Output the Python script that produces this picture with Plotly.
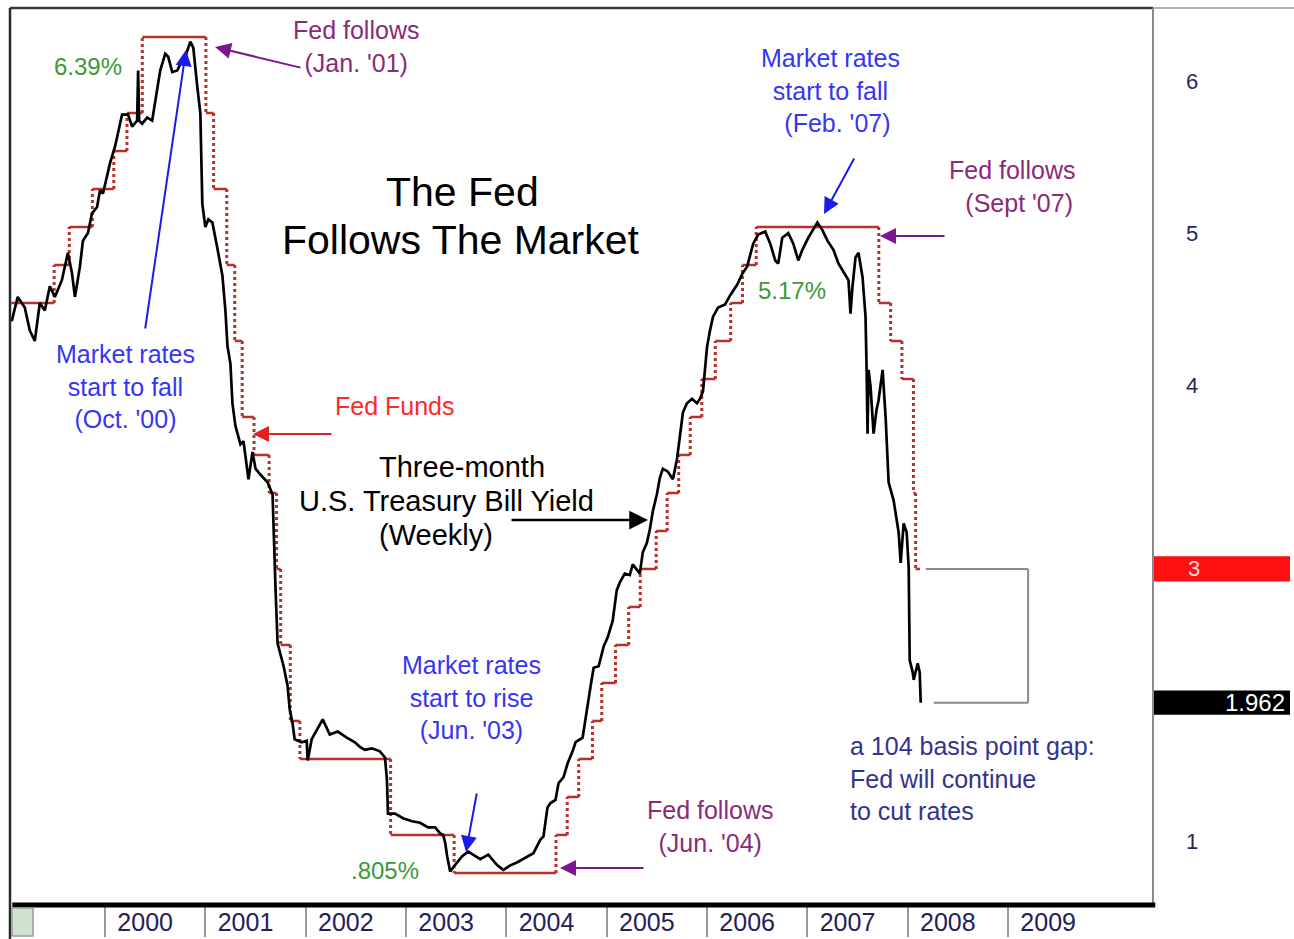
import datetime as dt
import plotly.graph_objects as go

# ---------------- data ----------------
# Three-month T-bill yield (weekly); x in decimal years
tbill_year = [
    1999.07, 1999.13, 1999.20, 1999.25, 1999.30, 1999.35, 1999.40, 1999.45, 1999.50, 1999.57,
    1999.63, 1999.67, 1999.70, 1999.75, 1999.78, 1999.83, 1999.87, 1999.92, 1999.95, 1999.98,
    2000.05, 2000.10, 2000.17, 2000.23, 2000.27, 2000.32, 2000.33, 2000.34, 2000.37, 2000.42,
    2000.47, 2000.52, 2000.55, 2000.60, 2000.63, 2000.67, 2000.72, 2000.77, 2000.80, 2000.85,
    2000.88, 2000.92, 2000.95, 2000.97,
    2001.00, 2001.03, 2001.07, 2001.12, 2001.17, 2001.20, 2001.22, 2001.25, 2001.27, 2001.30,
    2001.35, 2001.38, 2001.43, 2001.47, 2001.50, 2001.55, 2001.62, 2001.67, 2001.68, 2001.70,
    2001.72, 2001.75, 2001.78, 2001.82, 2001.84, 2001.87, 2001.89, 2001.96,
    2002.01, 2002.02, 2002.06, 2002.11, 2002.17, 2002.24, 2002.32, 2002.41, 2002.49, 2002.54,
    2002.59, 2002.66, 2002.74, 2002.79, 2002.81, 2002.82, 2002.89, 2002.97,
    2003.06, 2003.14, 2003.22, 2003.29, 2003.34, 2003.37, 2003.39, 2003.41, 2003.44, 2003.51,
    2003.56, 2003.62, 2003.69, 2003.74, 2003.82, 2003.91, 2003.97,
    2004.04, 2004.11, 2004.19, 2004.27, 2004.34, 2004.37, 2004.41, 2004.44, 2004.49, 2004.52,
    2004.57, 2004.61, 2004.66, 2004.69, 2004.76, 2004.81, 2004.84, 2004.87, 2004.92, 2004.97,
    2005.01, 2005.06, 2005.10, 2005.13, 2005.18, 2005.23, 2005.26, 2005.33, 2005.36, 2005.40,
    2005.43, 2005.46, 2005.50, 2005.53, 2005.56, 2005.61, 2005.66, 2005.70, 2005.73, 2005.76,
    2005.80, 2005.85, 2005.90, 2005.93, 2005.96, 2005.98,
    2006.00, 2006.03, 2006.06, 2006.11, 2006.18, 2006.23, 2006.30, 2006.35, 2006.40, 2006.46,
    2006.51, 2006.58, 2006.63, 2006.68, 2006.71, 2006.75, 2006.81, 2006.86, 2006.91, 2006.95,
    2007.01, 2007.10, 2007.15, 2007.20, 2007.26, 2007.31, 2007.36, 2007.41, 2007.43, 2007.45,
    2007.48, 2007.51, 2007.55, 2007.58, 2007.59, 2007.60, 2007.61, 2007.63, 2007.66, 2007.69,
    2007.71, 2007.75, 2007.78, 2007.81, 2007.86, 2007.91, 2007.93, 2007.96, 2007.99,
    2008.01, 2008.02, 2008.05, 2008.06, 2008.10, 2008.12, 2008.13,
]
tbill_yield = [
    4.63, 4.79, 4.72, 4.57, 4.50, 4.75, 4.70, 4.86, 4.79, 4.90,
    5.08, 4.95, 4.79, 4.99, 5.16, 5.21, 5.34, 5.38, 5.49, 5.47,
    5.67, 5.78, 5.99, 5.99, 5.91, 5.95, 6.28, 5.95, 5.93, 5.97,
    5.95, 6.17, 6.28, 6.39, 6.37, 6.27, 6.28, 6.35, 6.37, 6.47,
    6.43, 6.17, 6.00, 5.40,
    5.25, 5.30, 5.28, 5.11, 4.93, 4.70, 4.47, 4.35, 4.09, 3.94,
    3.82, 3.84, 3.59, 3.77, 3.66, 3.62, 3.57, 3.49, 3.24, 2.86,
    2.51, 2.43, 2.36, 2.23, 2.08, 1.98, 1.88, 1.86,
    1.87, 1.74, 1.88, 1.94, 2.01, 1.91, 1.93, 1.89, 1.86, 1.83,
    1.81, 1.82, 1.80, 1.76, 1.61, 1.39, 1.39, 1.36,
    1.34, 1.33, 1.30, 1.30, 1.26, 1.25, 1.20, 1.11, 1.01, 1.07,
    1.11, 1.14, 1.11, 1.09, 1.12, 1.05, 1.02,
    1.05, 1.07, 1.10, 1.13, 1.22, 1.24, 1.43, 1.46, 1.48, 1.59,
    1.63, 1.72, 1.80, 1.86, 1.89, 2.12, 2.23, 2.35, 2.36, 2.49,
    2.55, 2.66, 2.86, 2.91, 2.97, 2.96, 3.03, 2.97, 3.11, 3.17,
    3.26, 3.38, 3.49, 3.60, 3.66, 3.64, 3.59, 3.72, 3.86, 4.03,
    4.09, 4.12, 4.09, 4.12, 4.17, 4.34,
    4.46, 4.57, 4.66, 4.72, 4.74, 4.80, 4.87, 4.94, 4.99, 5.14,
    5.20, 5.22, 5.14, 5.03, 5.01, 5.18, 5.21, 5.14, 5.03, 5.10,
    5.18, 5.28, 5.23, 5.16, 5.10, 5.01, 4.95, 4.90, 4.68, 4.86,
    5.05, 5.08, 4.92, 4.66, 4.33, 3.89, 4.31, 4.20, 3.89, 4.05,
    4.11, 4.31, 4.00, 3.57, 3.45, 3.24, 3.04, 3.30, 3.24,
    3.01, 2.40, 2.32, 2.27, 2.38, 2.32, 2.12,
]

# Fed funds target rate changes
fed_dates = [
    "1999-01-25", "1999-06-30", "1999-08-24", "1999-11-16", "2000-02-02", "2000-03-21",
    "2000-05-16", "2001-01-03", "2001-01-31", "2001-03-20", "2001-04-18", "2001-05-15",
    "2001-06-27", "2001-08-21", "2001-09-17", "2001-10-02", "2001-11-06", "2001-12-11",
    "2002-11-06", "2003-06-25", "2004-06-30", "2004-08-10", "2004-09-21", "2004-11-10",
    "2004-12-14", "2005-02-02", "2005-03-22", "2005-05-03", "2005-06-30", "2005-08-09",
    "2005-09-20", "2005-11-01", "2005-12-13", "2006-01-31", "2006-03-28", "2006-05-10",
    "2006-06-29", "2007-09-18", "2007-10-31", "2007-12-11", "2008-01-22", "2008-01-30",
]
fed_rates = [
    4.75, 5.00, 5.25, 5.50, 5.75, 6.00,
    6.50, 6.00, 5.50, 5.00, 4.50, 4.00,
    3.75, 3.50, 3.00, 2.50, 2.00, 1.75,
    1.25, 1.00, 1.25, 1.50, 1.75, 2.00,
    2.25, 2.50, 2.75, 3.00, 3.25, 3.50,
    3.75, 4.00, 4.25, 4.50, 4.75, 5.00,
    5.25, 4.75, 4.50, 4.25, 3.50, 3.00,
]
fed_end_date = "2008-02-15"

year_labels = ["2000", "2001", "2002", "2003", "2004", "2005", "2006", "2007", "2008", "2009"]
y_ticks = [1, 4, 5, 6]
last_tbill_label = "1.962"


def dec_year(s):
    d = dt.date.fromisoformat(s)
    start = dt.date(d.year, 1, 1)
    n = (dt.date(d.year + 1, 1, 1) - start).days
    return d.year + (d - start).days / n


fx = [dec_year(s) for s in fed_dates] + [dec_year(fed_end_date)]

# horizontal (solid) and vertical (dotted) pieces of the step line
hx, hy, vx, vy = [], [], [], []
for i, r in enumerate(fed_rates):
    hx += [fx[i], fx[i + 1], None]
    hy += [r, r, None]
    if i + 1 < len(fed_rates):
        vx += [fx[i + 1], fx[i + 1], None]
        vy += [r, fed_rates[i + 1], None]

RED = "#b8302a"
fig = go.Figure()
fig.add_trace(go.Scatter(x=vx, y=vy, mode="lines", line=dict(color=RED, width=3, dash="dot"),
                         hoverinfo="skip"))
fig.add_trace(go.Scatter(x=hx, y=hy, mode="lines", line=dict(color=RED, width=2.5),
                         name="Fed Funds"))
fig.add_trace(go.Scatter(x=tbill_year, y=tbill_yield, mode="lines",
                         line=dict(color="#000000", width=2.7), name="3M T-Bill"))

# ---------------- layout helpers ----------------
L, R, T, B = 10, 1153, 8, 905
W, H = 1294, 939


def P(px, py):
    return (px - L) / (R - L), (B - py) / (B - T)


FONT = "Liberation Sans, Arial, sans-serif"
annotations = []


def text(px, py, s, color, size=25, xanchor="center", align="center"):
    x, y = P(px, py)
    annotations.append(dict(x=x, y=y, xref="paper", yref="paper", text=s, showarrow=False,
                            xanchor=xanchor, yanchor="middle", align=align,
                            font=dict(family=FONT, size=size, color=color)))


def arrow(hx_, hy_, tx, ty, color, width=2, size=1.6, head=2):
    x, y = P(hx_, hy_)
    annotations.append(dict(x=x, y=y, xref="paper", yref="paper", text="", showarrow=True,
                            ax=tx - hx_, ay=ty - hy_, arrowcolor=color, arrowwidth=width,
                            arrowsize=size, arrowhead=head, standoff=0))


GREEN = "#3a9a3a"
BLUE = "#3535f5"
PURPLE = "#8a2a78"
PURPLE_A = "#7a1890"

text(462, 192, "The Fed", "#000000", size=41)
text(461, 240, "Follows The Market", "#000000", size=41)

text(88, 66, "6.39%", GREEN, size=24)
text(356, 46, "Fed follows<br>(Jan. '01)", PURPLE)
arrow(215, 47, 302, 68, PURPLE_A)
text(125, 386, "Market rates<br>start to fall<br>(Oct. '00)", BLUE)
arrow(186, 50, 145, 330, "#1a1aee")
text(395, 406, "Fed Funds", "#ff2a2a")
arrow(253, 434, 333, 434, "#e02020")
text(462, 467, "Three-month", "#000000", size=29)
text(446, 501, "U.S. Treasury Bill Yield", "#000000", size=29)
text(436, 535, "(Weekly)", "#000000", size=29)
arrow(648, 520, 510, 520, "#000000", width=2.5, size=1.5)
text(830, 90, "Market rates<br>start to fall<br>  (Feb. '07)", BLUE)
arrow(824, 214, 855, 157, "#1a1aee")
text(1012, 186, "Fed follows<br>  (Sept '07)", PURPLE)
arrow(880, 236, 946, 236, PURPLE_A)
text(792, 290, "5.17%", GREEN, size=24)
text(471, 698, "Market rates<br>start to rise<br>(Jun. '03)", BLUE)
arrow(466, 852, 477, 792, "#1a1aee")
text(385, 870, ".805%", GREEN, size=24)
text(710, 826, "Fed follows<br>(Jun. '04)", PURPLE)
arrow(560, 868, 645, 868, PURPLE_A)
text(848, 778, "a 104 basis point gap:<br>Fed will continue<br>to cut rates", "#33338f",
     xanchor="left", align="left")

# right-hand value boxes
fed_last = fed_rates[-1]
tb_last = tbill_yield[-1]
box_x1 = (1290 - L) / (R - L)
annotations.append(dict(x=(1202 - L) / (R - L), y=fed_last, xref="paper", yref="y", text="3",
                        showarrow=False, font=dict(family=FONT, size=22, color="#ffd6d6")))
annotations.append(dict(x=(1287 - L) / (R - L), y=tb_last, xref="paper", yref="y",
                        text=last_tbill_label, showarrow=False, xanchor="right",
                        font=dict(family=FONT, size=24, color="#ffffff")))

shapes = [
    # value boxes
    dict(type="rect", xref="paper", yref="y", x0=1, x1=box_x1, y0=fed_last - 0.083,
         y1=fed_last + 0.083, fillcolor="#ff1010", line=dict(width=0), layer="below"),
    dict(type="rect", xref="paper", yref="y", x0=1, x1=box_x1, y0=tb_last - 0.08,
         y1=tb_last + 0.08, fillcolor="#000000", line=dict(width=0), layer="below"),
    # gap bracket
    dict(type="line", xref="x", yref="y", x0=2008.18, x1=2009.20, y0=fed_last, y1=fed_last,
         line=dict(color="#8a8a8a", width=2)),
    dict(type="line", xref="x", yref="y", x0=2009.20, x1=2009.20, y0=fed_last, y1=tb_last,
         line=dict(color="#8a8a8a", width=2)),
    dict(type="line", xref="x", yref="y", x0=2008.26, x1=2009.20, y0=tb_last, y1=tb_last,
         line=dict(color="#8a8a8a", width=2)),
    # frame
    dict(type="line", xref="paper", yref="paper", x0=0, x1=1, y0=1, y1=1,
         line=dict(color="#3a3a3a", width=2.5)),
    dict(type="line", xref="paper", yref="paper", x0=1, x1=(W - L) / (R - L), y0=1, y1=1,
         line=dict(color="#9a9a9a", width=1.5)),
    dict(type="line", xref="paper", yref="paper", x0=0, x1=0, y0=-0.04, y1=1,
         line=dict(color="#2a2a2a", width=2.5)),
    dict(type="line", xref="paper", yref="paper", x0=1, x1=1, y0=0, y1=1,
         line=dict(color="#8a8a8a", width=2)),
    dict(type="line", xref="paper", yref="paper", x0=0.002, x1=1.002, y0=0, y1=0,
         line=dict(color="#000000", width=5)),
    dict(type="rect", xref="paper", yref="paper", x0=(12 - L) / (R - L), x1=(33 - L) / (R - L),
         y0=(B - 936) / (B - T), y1=(B - 908) / (B - T), fillcolor="#cfe3cf",
         line=dict(color="#9a9a9a", width=1.5)),
]

years = [int(s) for s in year_labels]
fig.update_layout(
    width=W, height=H,
    margin=dict(l=L, r=W - R, t=T, b=H - B, autoexpand=False),
    paper_bgcolor="#ffffff", plot_bgcolor="#ffffff",
    showlegend=False,
    font=dict(family=FONT),
    annotations=annotations,
    shapes=shapes,
    xaxis=dict(
        range=[1999.053, 2010.445], showgrid=False, zeroline=False, showline=False,
        automargin=False,
        tickmode="array", tickvals=[y + 0.40 for y in years], ticktext=year_labels,
        ticks="", tickfont=dict(family="Liberation Sans Narrow, Arial Narrow, " + FONT,
                                size=25, color="#24205a"),
        minor=dict(tickmode="array", tickvals=years, ticks="outside", ticklen=31,
                   tickwidth=2, tickcolor="#9a9a9a", showgrid=False),
    ),
    yaxis=dict(
        range=[0.789, 6.691], side="right", showgrid=False, zeroline=False, showline=False,
        automargin=False,
        tickmode="array", tickvals=y_ticks, ticktext=[str(v) for v in y_ticks], ticks="",
        ticklabelstandoff=32, ticklabelshift=-32,
        tickfont=dict(family=FONT, size=22, color="#262660"),
    ),
)

fig.write_html("out.html", config={"displayModeBar": False},
               post_script="document.body.style.margin='0';")
